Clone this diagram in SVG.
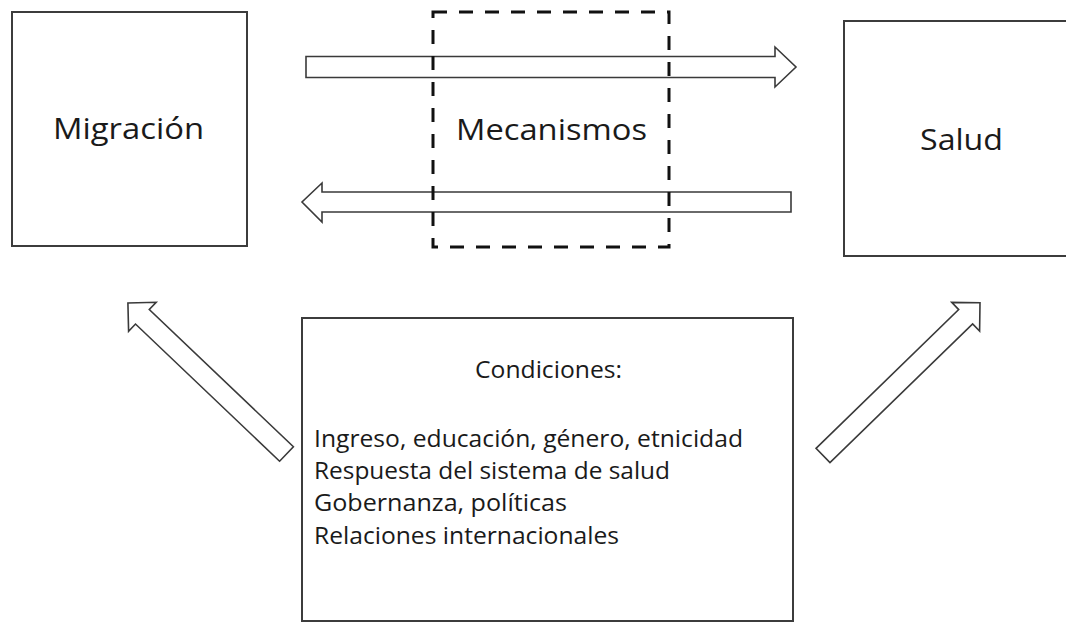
<svg xmlns="http://www.w3.org/2000/svg" width="1066" height="622" viewBox="0 0 1066 622">
  <style>
    .box { fill: #ffffff; stroke: #3c3c3c; stroke-width: 2; }
    .dash { fill: none; stroke: #111111; stroke-width: 3; stroke-dasharray: 14 12; }
    .arrow { fill: #ffffff; stroke: #3a3a3a; stroke-width: 1.6; stroke-linejoin: miter; }
    .big { font-family: "Open Sans", "Liberation Sans", sans-serif; font-size: 29px; fill: #1a1a1a; }
    .small { font-family: "Open Sans", "Liberation Sans", sans-serif; font-size: 24px; fill: #1a1a1a; }
  </style>
  <rect width="1066" height="622" fill="#ffffff"/>

  <g id="migracion">
    <rect class="box" x="12" y="12" width="235" height="234"/>
    <text class="big" x="53" y="139" textLength="151" lengthAdjust="spacingAndGlyphs">Migración</text>
  </g>

  <g id="salud">
    <rect class="box" x="844" y="21" width="240" height="235"/>
    <text class="big" x="920" y="150" textLength="83" lengthAdjust="spacingAndGlyphs">Salud</text>
  </g>

  <g id="connectors">
    <polygon class="arrow" points="306,56.5 775,56.5 775,47 796,67 775,87 775,77.5 306,77.5"/>
    <polygon class="arrow" points="791,192 322,192 322,183 302,202 322,222 322,212 791,212"/>
    <polygon class="arrow" transform="translate(286.5,454) rotate(223.6)" points="0,-10 199,-10 199,-20 219,0 199,20 199,10 0,10"/>
    <polygon class="arrow" transform="translate(823,455.5) rotate(-44.2)" points="0,-10 199,-10 199,-20 219,0 199,20 199,10 0,10"/>
  </g>

  <g id="mecanismos">
    <rect class="dash" x="433" y="12" width="236" height="235"/>
    <text class="big" x="456" y="140" textLength="191" lengthAdjust="spacingAndGlyphs">Mecanismos</text>
  </g>

  <g id="condiciones">
    <rect class="box" x="302" y="318" width="491" height="303"/>
    <text class="small" x="475" y="378" textLength="147" lengthAdjust="spacingAndGlyphs">Condiciones:</text>
    <text class="small" x="314" y="447" textLength="429" lengthAdjust="spacingAndGlyphs">Ingreso, educación, género, etnicidad</text>
    <text class="small" x="314" y="479" textLength="356" lengthAdjust="spacingAndGlyphs">Respuesta del sistema de salud</text>
    <text class="small" x="314" y="511" textLength="253" lengthAdjust="spacingAndGlyphs">Gobernanza, políticas</text>
    <text class="small" x="314" y="544" textLength="305" lengthAdjust="spacingAndGlyphs">Relaciones internacionales</text>
  </g>
</svg>
